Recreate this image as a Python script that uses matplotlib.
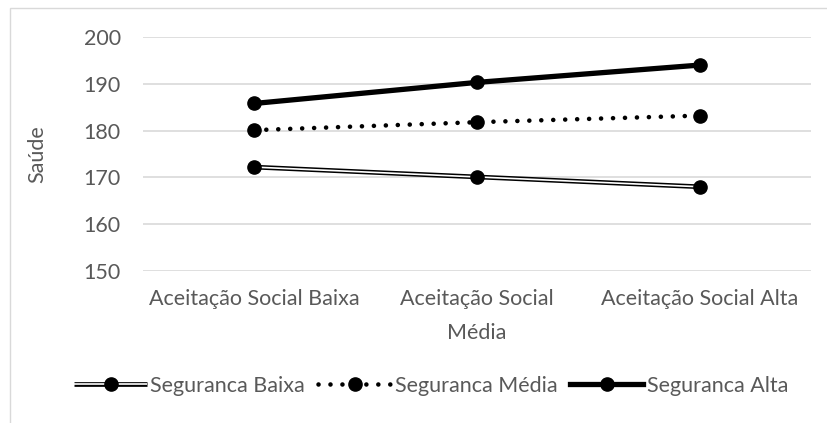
import matplotlib.pyplot as plt
from matplotlib.legend_handler import HandlerTuple
from matplotlib.patches import Rectangle

categories = ["Aceitação Social Baixa", "Aceitação Social\nMédia", "Aceitação Social Alta"]
seg_baixa = [172.2, 170.1, 168.0]
seg_media = [180.1, 181.8, 183.2]
seg_alta = [185.8, 190.3, 194.0]
y_ticks = [150, 160, 170, 180, 190, 200]

plt.rcParams['font.family'] = ['Lato', 'DejaVu Sans']
grey = '#595959'
fs = 15.5

fig = plt.figure(figsize=(8.27, 4.23), dpi=100)
ax = fig.add_axes([143/827, 1 - 271/423, (811 - 143)/827, (271 - 37)/423])

x = range(len(categories))

# Seguranca Baixa: double line (black outline, white core)
b1, = ax.plot(x, seg_baixa, color='black', lw=3.4, solid_capstyle='butt', zorder=3)
b2, = ax.plot(x, seg_baixa, color='white', lw=1.2, solid_capstyle='butt', zorder=4)
b3, = ax.plot(x, seg_baixa, ls='none', marker='o', ms=9.5, color='black', zorder=5)

m, = ax.plot(x, seg_media, color='black', lw=3.3, ls=(0, (0.01, 2.6)),
             dash_capstyle='round', marker='o', ms=9.5, zorder=5)
a, = ax.plot(x, seg_alta, color='black', lw=3.8, marker='o', ms=9.5, zorder=5)

ax.set_xlim(-0.5, 2.5)
ax.set_ylim(150, 200)
ax.set_yticks(y_ticks)
ax.set_xticks(list(x))
ax.set_xticklabels(categories, linespacing=1.85)
ax.tick_params(length=0, labelsize=fs, colors=grey)
ax.tick_params(axis='y', pad=16)
ax.tick_params(axis='x', pad=13)
ax.yaxis.grid(True, color='#d9d9d9', lw=1.2)
ax.set_axisbelow(True)
for s in ax.spines.values():
    s.set_visible(False)
ax.set_ylabel("Saúde", fontsize=fs, color=grey, labelpad=26)

leg = fig.legend([(b1, b2, b3), m, a],
                 ["Seguranca Baixa", "Seguranca Média", "Seguranca Alta"],
                 handler_map={tuple: HandlerTuple(ndivide=1)},
                 loc='center', bbox_to_anchor=(431/827, 1 - 386/423), ncol=3,
                 frameon=False, fontsize=fs, handlelength=3.4,
                 handletextpad=0.15, columnspacing=0.6, labelcolor=grey)

# chart area border
fig.add_artist(Rectangle((10/827, -0.1), 1.2, 1 - 8/423 + 0.1, transform=fig.transFigure,
                         fill=False, ec='#d9d9d9', lw=1))

fig.savefig('out.png', dpi=100)
